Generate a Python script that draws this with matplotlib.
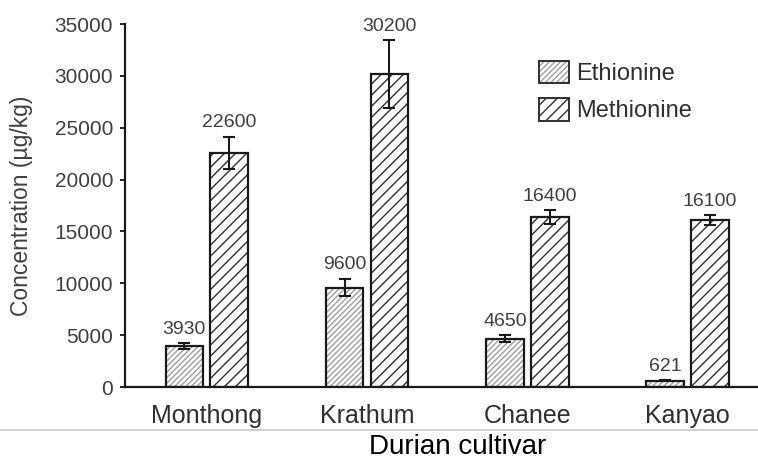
import matplotlib
matplotlib.use("Agg")
import matplotlib.pyplot as plt
import numpy as np
from matplotlib.lines import Line2D
from matplotlib.patches import Patch

plt.rcParams['font.family'] = ['Liberation Sans', 'DejaVu Sans']
plt.rcParams['hatch.linewidth'] = 1.0

# data
cultivars = ["Monthong", "Krathum", "Chanee", "Kanyao"]
ethionine = [3930, 9600, 4650, 621]
ethionine_err = [300, 830, 330, 40]
methionine = [22600, 30200, 16400, 16100]
methionine_err = [1550, 3250, 650, 480]
eth_labels = ["3930", "9600", "4650", "621"]
meth_labels = ["22600", "30200", "16400", "16100"]
yticks = [0, 5000, 10000, 15000, 20000, 25000, 30000, 35000]

txt_grey = '#404040'
edge = '#1a1a1a'

fig = plt.figure(figsize=(7.58, 4.63), dpi=100)
ax = fig.add_axes([0.165, 0.164, 0.835, 0.784])

x = np.arange(len(cultivars))
w = 0.235
off = 0.14

styles = {
    'eth': ('#a0a0a0', '//////'),
    'meth': ('#303030', '///'),
}

series = [
    (x - off, ethionine, ethionine_err, eth_labels, 'eth'),
    (x + off, methionine, methionine_err, meth_labels, 'meth'),
]

for xs, vals, errs, labs, key in series:
    hcol, hatch = styles[key]
    # hatch layer, then outline on top
    ax.bar(xs, vals, w, color='white', edgecolor=hcol, hatch=hatch, linewidth=0, zorder=2)
    ax.bar(xs, vals, w, color='none', edgecolor=edge, linewidth=1.6, zorder=3)
    ax.errorbar(xs, vals, yerr=errs, fmt='none', ecolor=edge, elinewidth=1.5,
                capsize=4.5, capthick=1.5, zorder=4)
    for xi, v, e, s in zip(xs, vals, errs, labs):
        ax.annotate(s, (xi, v + e), xytext=(0, 4), textcoords='offset points',
                    ha='center', va='bottom', fontsize=14, color=txt_grey)

ax.set_xlim(-0.51, 3.44)
ax.set_ylim(0, 35000)
ax.set_yticks(yticks)
ax.set_yticklabels([str(t) for t in yticks], fontsize=15, color=txt_grey)
ax.set_xticks(x)
ax.set_xticklabels(cultivars, fontsize=18, color='#303030')
ax.tick_params(axis='x', length=0, pad=12)
ax.tick_params(axis='y', length=3.6, width=1.2, direction='out', pad=5)
for s in ['top', 'right']:
    ax.spines[s].set_visible(False)
for s in ['left', 'bottom']:
    ax.spines[s].set_linewidth(1.6)
    ax.spines[s].set_color(edge)

fig.text(0.029, 0.555, "Concentration (µg/kg)", rotation=90, ha='center', va='center',
         fontsize=16.5, color=txt_grey)
fig.text(0.604, 0.02, "Durian cultivar", ha='center', va='baseline', fontsize=20, color='black')

# thin grey separator between tick labels and x title
fig.add_artist(Line2D([0, 1], [0.071, 0.071], transform=fig.transFigure,
                      color='#c8c8c8', linewidth=1.2))

handles = []
for key in ['eth', 'meth']:
    hcol, hatch = styles[key]
    handles.append((Patch(facecolor='white', edgecolor=hcol, hatch=hatch, linewidth=0),
                    Patch(facecolor='none', edgecolor='#303030', linewidth=1.4)))
leg = ax.legend(handles, ["Ethionine", "Methionine"], loc='upper left',
                bbox_to_anchor=(0.62, 0.958), frameon=False, fontsize=17,
                handlelength=1.3, handleheight=1.1, handletextpad=0.3, labelspacing=0.55)
for t in leg.get_texts():
    t.set_color('#303030')

fig.savefig("out.png", dpi=100)
